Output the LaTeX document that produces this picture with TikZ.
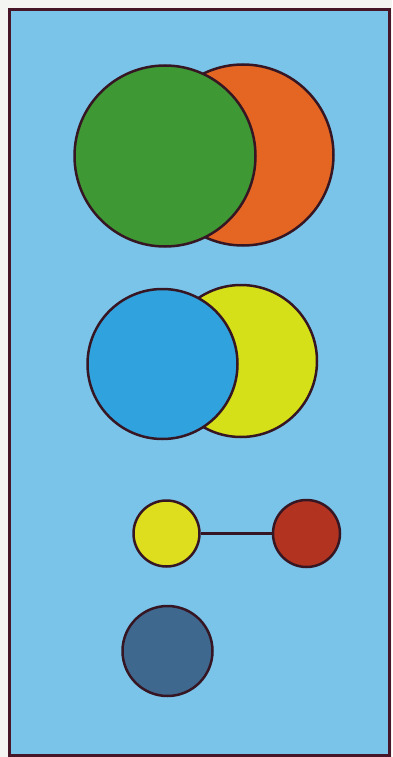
\documentclass[tikz,border=0pt]{standalone}
\begin{document}
\begin{tikzpicture}[x=1pt,y=-1pt,
  disc/.style={circle,draw=outline,line width=2.5pt,inner sep=0pt},
  link/.style={draw=outline,line width=3pt}]
\definecolor{outline}{RGB}{55,22,35}
\definecolor{sky}{RGB}{122,196,234}
\definecolor{paper}{RGB}{244,244,242}
\definecolor{cgreen}{RGB}{62,152,52}
\definecolor{corange}{RGB}{228,102,34}
\definecolor{cblue}{RGB}{48,162,222}
\definecolor{cyellow}{RGB}{214,224,24}
\definecolor{cyellow2}{RGB}{222,222,30}
\definecolor{cred}{RGB}{178,52,32}
\definecolor{cdark}{RGB}{62,104,142}
\definecolor{frame}{RGB}{70,22,40}
\useasboundingbox (0,0) rectangle (392,757);
\fill[paper] (0,0) rectangle (392,757);
\draw[fill=sky,draw=frame,line width=3pt] (9,10) rectangle (389,755);
% top pair
\node[disc,fill=corange,minimum size=181pt] (orange) at (243,155) {};
\node[disc,fill=cgreen,minimum size=181pt] (green) at (165,156) {};
% middle pair
\node[disc,fill=cyellow,minimum size=152pt] (yellow) at (241,361) {};
\node[disc,fill=cblue,minimum size=150pt] (blue) at (162.5,364) {};
% linked pair
\node[disc,fill=cyellow2,minimum size=66pt] (small) at (166.5,533.5) {};
\node[disc,fill=cred,minimum size=67pt] (red) at (306.5,533.5) {};
\draw[link] (small) -- (red);
% single disc
\node[disc,fill=cdark,minimum size=90pt] (dark) at (167.5,651) {};
\end{tikzpicture}
\end{document}
